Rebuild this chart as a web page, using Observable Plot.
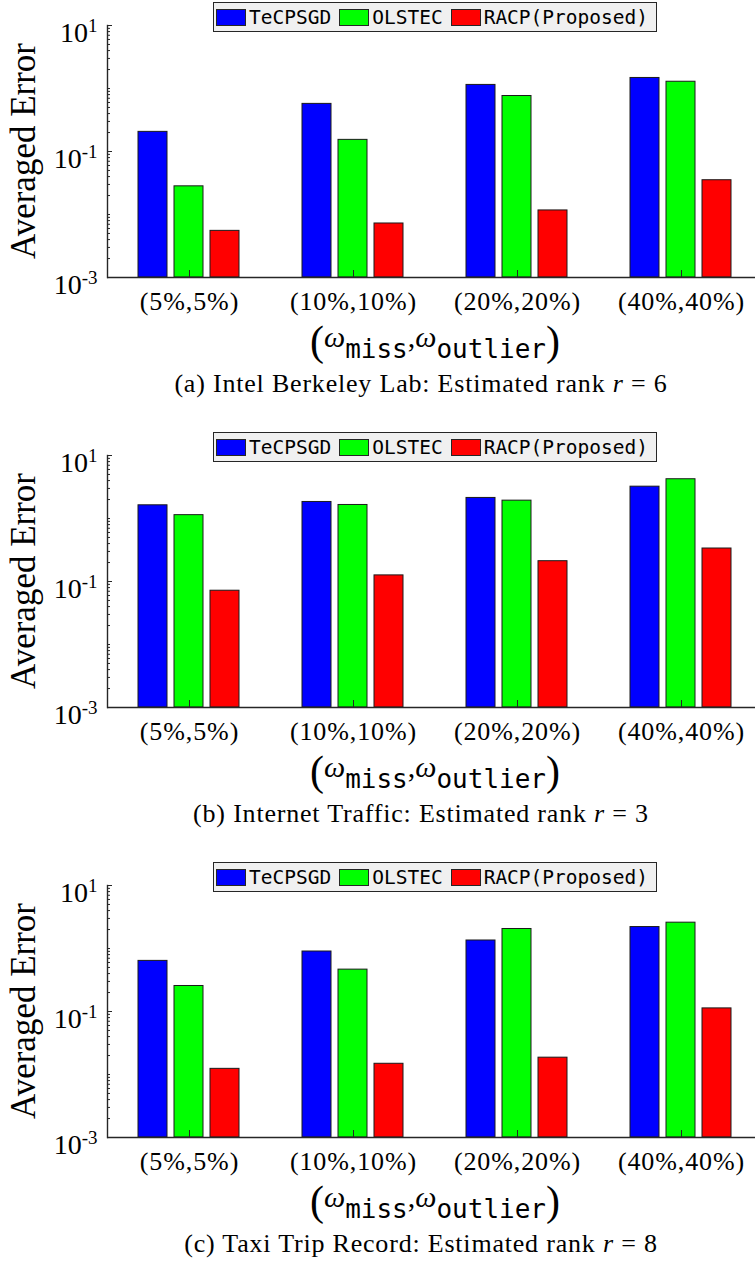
<!DOCTYPE html>
<html>
<head>
<meta charset="utf-8">
<script src="https://cdn.jsdelivr.net/npm/d3@7"></script>
<script src="https://cdn.jsdelivr.net/npm/@observablehq/plot@0.6"></script>
<style>
html, body { margin: 0; padding: 0; background: #fff; overflow: hidden; width: 755px; }
.panel { position: relative; width: 755px; height: 430px; overflow: hidden; }
.panel > svg { position: absolute; left: 0; top: 0; }
.legend { position: absolute; left: 213px; top: 2px; height: 30px; box-sizing: border-box; background: #f0f0f0; border: 1px solid #262626; display: flex; align-items: center; padding: 0 8px 0 2px; font-family: "DejaVu Sans Mono", monospace; font-size: 19.5px; color: #000; white-space: nowrap; }
.legend .item { display: flex; align-items: center; margin-right: 8px; }
.legend .item:last-child { margin-right: 0; }
.legend .sw { width: 30px; height: 17px; box-sizing: border-box; border: 1px solid #262626; margin-right: 3px; }
</style>
</head>
<body>
<div id="root"></div>
<script>
// ---- data ----
const groups = ["(5%,5%)", "(10%,10%)", "(20%,20%)", "(40%,40%)"];
const seriesNames = ["TeCPSGD", "OLSTEC", "RACP(Proposed)"];
const seriesColors = ["#0000ff", "#00ff00", "#ff0000"];

const intelTeCPSGD = [0.205, 0.57, 1.14, 1.47];
const intelOLSTEC = [0.028, 0.153, 0.76, 1.28];
const intelRACP = [0.0055, 0.0072, 0.0116, 0.035];

const trafficTeCPSGD = [1.62, 1.83, 2.12, 3.2];
const trafficOLSTEC = [1.13, 1.64, 1.92, 4.2];
const trafficRACP = [0.0714, 0.125, 0.21, 0.334];

const taxiTeCPSGD = [0.636, 0.896, 1.34, 2.19];
const taxiOLSTEC = [0.254, 0.462, 2.04, 2.57];
const taxiRACP = [0.0123, 0.0148, 0.0185, 0.112];

const captionTexts = ["(a) Intel Berkeley Lab: Estimated rank ", "(b) Internet Traffic: Estimated rank ", "(c) Taxi Trip Record: Estimated rank "];
const captionRanks = [6, 3, 8];

const yDomain = [1e-3, 1e1];
const yLabelTicks = [1e-3, 1e-1, 1e1];
const yAxisTitle = "Averaged Error";

// ---- drawing ----
const panels = [
  {values: [intelTeCPSGD, intelOLSTEC, intelRACP], caption: captionTexts[0], rank: captionRanks[0]},
  {values: [trafficTeCPSGD, trafficOLSTEC, trafficRACP], caption: captionTexts[1], rank: captionRanks[1]},
  {values: [taxiTeCPSGD, taxiOLSTEC, taxiRACP], caption: captionTexts[2], rank: captionRanks[2]}
];

const logTicks = d3.scaleLog().domain(yDomain).ticks();
const yMinorTicks = logTicks.filter(t => !yLabelTicks.some(m => Math.abs(m - t) / m < 1e-9));

const root = d3.select("#root");
const serif = "'Liberation Serif', 'Times New Roman', serif";
const mono = "'DejaVu Sans Mono', monospace";

panels.forEach(p => {
  const rows = groups.flatMap((g, gi) => seriesNames.map((s, si) => ({group: g, series: s, value: p.values[si][gi]})));
  const panel = root.append("div").attr("class", "panel");

  const chart = Plot.plot({
    width: 755,
    height: 330,
    marginTop: 25,
    marginBottom: 53,
    marginLeft: 107,
    marginRight: -8,
    style: {fontFamily: serif, color: "#000", background: "transparent"},
    fx: {domain: groups, padding: 0, label: null},
    x: {domain: seriesNames, paddingInner: 0.19, paddingOuter: 0.85, axis: null},
    y: {type: "log", domain: yDomain},
    color: {domain: seriesNames, range: seriesColors},
    marks: [
      Plot.barY(rows, {fx: "group", x: "series", y1: yDomain[0], y2: "value", fill: "series", stroke: "#1a1a1a", strokeWidth: 1}),
      Plot.ruleY([yDomain[0]], {stroke: "#262626", strokeWidth: 1.4}),
      Plot.frame({anchor: "left", facetAnchor: "left", stroke: "#262626", strokeWidth: 1.4}),
      Plot.axisY({ticks: yMinorTicks, tickSize: -3, tickFormat: () => "", label: null, stroke: "#262626"}),
      Plot.axisY({ticks: yLabelTicks, tickSize: -5, tickFormat: () => "", label: null, stroke: "#262626"}),
      Plot.axisY({ticks: yLabelTicks, tickSize: 0, tickPadding: 10, dy: 8, fontSize: 28, label: null,
        tickFormat: d => `10^${Math.round(Math.log10(d))}`}),
      Plot.axisFx({anchor: "bottom", tickSize: -7, tickFormat: () => "", label: null, stroke: "#262626"}),
      Plot.axisFx({anchor: "bottom", tickSize: 0, tickPadding: 14, fontSize: 26, label: null})
    ]
  });
  panel.node().appendChild(chart);

  // turn "10^k" tick labels into a base with a superscript
  d3.select(chart).selectAll('g[aria-label="y-axis tick label"] text').each(function() {
    const t = this.textContent;
    if (!t.includes("^")) return;
    const [base, exp] = t.split("^");
    this.textContent = base;
    d3.select(this).append("tspan").attr("dy", -10).attr("font-size", 19).text(exp);
  });
  d3.select(chart).selectAll('g[aria-label="fx-axis tick label"] text').style("letter-spacing", "0.9px");

  // overlay: y title, x title, caption
  const ov = panel.append("svg").attr("width", 755).attr("height", 430)
    .style("font-family", serif).style("pointer-events", "none");

  ov.append("text")
    .attr("transform", "translate(35,151) rotate(-90)")
    .attr("text-anchor", "middle").attr("font-size", 35).attr("fill", "#000")
    .text(yAxisTitle);

  const xt = ov.append("text").attr("x", 435).attr("y", 347).attr("text-anchor", "middle").attr("fill", "#000");
  xt.append("tspan").attr("font-size", 42).attr("dy", 8).text("(");
  xt.append("tspan").attr("font-size", 30).attr("font-style", "italic").attr("dy", -8).text("ω");
  xt.append("tspan").attr("font-size", 26).attr("font-family", mono).attr("dy", 11).text("miss");
  xt.append("tspan").attr("font-size", 30).attr("dy", -11).text(",");
  xt.append("tspan").attr("font-size", 30).attr("font-style", "italic").text("ω");
  xt.append("tspan").attr("font-size", 26).attr("font-family", mono).attr("dy", 11).text("outlier");
  xt.append("tspan").attr("font-size", 42).attr("dy", -3).text(")");

  const cap = ov.append("text").attr("x", 421).attr("y", 392).attr("text-anchor", "middle")
    .attr("font-size", 26).attr("fill", "#000").style("letter-spacing", "0.8px");
  cap.append("tspan").text(p.caption);
  cap.append("tspan").attr("font-style", "italic").text("r");
  cap.append("tspan").text(" = " + p.rank);

  // legend
  const lg = panel.append("div").attr("class", "legend");
  seriesNames.forEach((s, i) => {
    const it = lg.append("div").attr("class", "item");
    it.append("div").attr("class", "sw").style("background", seriesColors[i]);
    it.append("span").text(s);
  });
});
</script>
</body>
</html>
